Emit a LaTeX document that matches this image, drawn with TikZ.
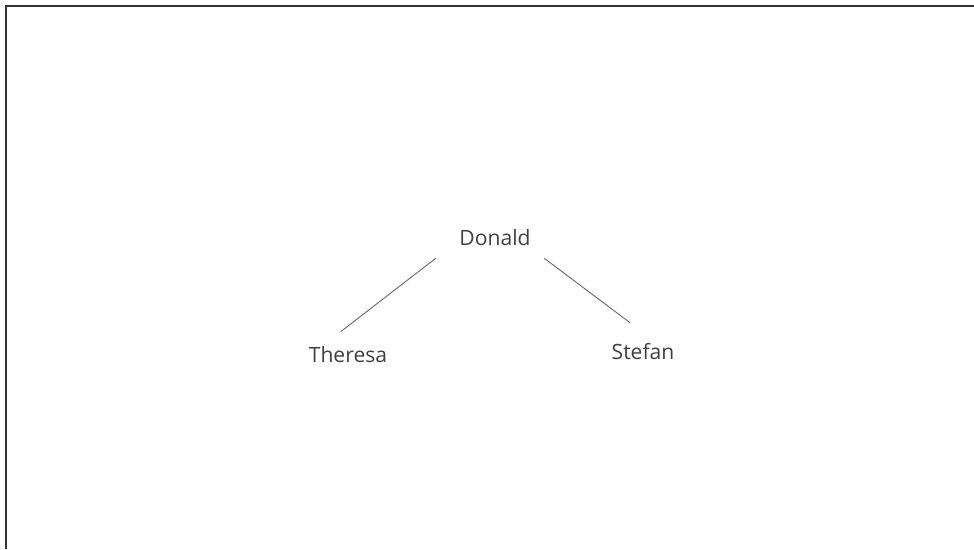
\documentclass[tikz,border=0pt]{standalone}
\usepackage{fontspec}
\setmainfont{Open Sans}
\usepackage{tikz}

\tikzset{
  person/.style={text=black!75, font=\fontsize{12}{14}\selectfont, inner sep=0pt},
  branch/.style={draw=black!60, line width=0.5pt}
}

\begin{document}
\begin{tikzpicture}[x=0.02cm,y=-0.02cm]
\useasboundingbox (0,0) rectangle (974,549);
\draw[black!80, line width=1.2pt] (6,549)--(6,6)--(974,6);
\node[person] (donald) at (495,238) {Donald};
\node[person] (theresa) at (348,355) {Theresa};
\node[person] (stefan) at (643,352) {Stefan};
\draw[branch] ([shift={(-59.3,20.3)}]donald.center)--([shift={(-7.3,-23.3)}]theresa.center);
\draw[branch] ([shift={(49.3,20.3)}]donald.center)--([shift={(-13,-29.3)}]stefan.center);
\end{tikzpicture}
\end{document}
